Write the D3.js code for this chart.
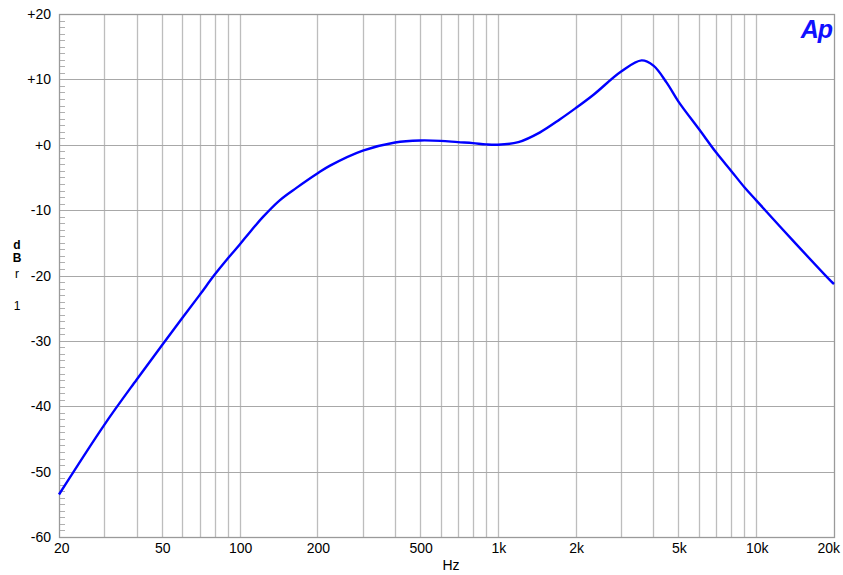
<!DOCTYPE html>
<html>
<head>
<meta charset="utf-8">
<script src="https://cdn.jsdelivr.net/npm/d3@7"></script>
<style>
  html, body { margin: 0; padding: 0; background: #fff; }
  svg { display: block; font-family: "Liberation Sans", Arial, sans-serif; }
</style>
</head>
<body>
<svg id="chart" width="843" height="575"></svg>
<script>
// Frequency response measurement (Hz vs dBr)
const freqHz = [20, 30, 40, 50, 60, 70, 80, 90, 100, 110, 123.5, 143, 166, 200, 224, 300, 400, 500, 600, 700, 800, 900,
                1000, 1200, 1456, 1740, 2000, 2345, 3000, 3600, 4000, 4500, 5000, 6000, 7000, 8000, 9000,
                10000, 13900, 19500, 20000];
const levelDb = [-53.5, -42.8, -35.9, -30.7, -26.5, -23.0, -19.9, -17.4, -15.3, -13.3, -11.0, -8.5, -6.6, -4.4, -3.2, -0.9, 0.35, 0.66, 0.6, 0.4, 0.25, 0.05,
                 0.0, 0.4, 1.9, 3.9, 5.6, 7.65, 11.2, 12.9, 12.1, 9.5, 6.6, 2.4, -1.2, -4.0, -6.5,
                 -8.5, -14.7, -20.9, -21.3];

const xGridHz = [30, 40, 50, 60, 70, 80, 90, 100, 200, 300, 400, 500, 600, 700, 800, 900,
                 1000, 2000, 3000, 4000, 5000, 6000, 7000, 8000, 9000, 10000];
const xTickHz = [20, 50, 100, 200, 500, 1000, 2000, 5000, 10000, 20000];
const xTickLabels = ["20", "50", "100", "200", "500", "1k", "2k", "5k", "10k", "20k"];
const yTicks = [20, 10, 0, -10, -20, -30, -40, -50, -60];
const yTickLabels = ["+20", "+10", "+0", "-10", "-20", "-30", "-40", "-50", "-60"];

const svg = d3.select("#chart");
const plotL = 59, plotR = 834, plotT = 14, plotB = 537;

const x = d3.scaleLog().domain([20, 20000]).range([plotL, plotR]);
const y = d3.scaleLinear().domain([-60, 20]).range([plotB, plotT]);

const g = svg.append("g");

// vertical grid
g.selectAll("line.vg").data(xGridHz).join("line")
  .attr("class", "vg")
  .attr("x1", d => Math.round(x(d)) + 0.5).attr("x2", d => Math.round(x(d)) + 0.5)
  .attr("y1", plotT).attr("y2", plotB)
  .attr("stroke", "#bdbdbd").attr("stroke-width", 1.3);

// horizontal grid
g.selectAll("line.hg").data(yTicks.filter(d => d !== 20 && d !== -60)).join("line")
  .attr("class", "hg")
  .attr("x1", plotL).attr("x2", plotR)
  .attr("y1", d => Math.round(y(d)) + 0.5).attr("y2", d => Math.round(y(d)) + 0.5)
  .attr("stroke", "#a8a8a8").attr("stroke-width", 1.2);

// minor ticks on the left edge, every 1 dB
const minor = d3.range(-59, 20).filter(d => d % 10 !== 0);
g.selectAll("line.mt").data(minor).join("line")
  .attr("x1", plotL).attr("x2", plotL + 6)
  .attr("y1", d => Math.round(y(d)) + 0.5).attr("y2", d => Math.round(y(d)) + 0.5)
  .attr("stroke", "#b0b0b0").attr("stroke-width", 1);

// frame
g.append("rect")
  .attr("x", plotL + 0.5).attr("y", plotT + 0.5)
  .attr("width", plotR - plotL).attr("height", plotB - plotT)
  .attr("fill", "none").attr("stroke", "#9a9a9a").attr("stroke-width", 1.3);

// response curve
const line = d3.line()
  .x((d, i) => x(freqHz[i]))
  .y(d => y(d))
  .curve(d3.curveCatmullRom.alpha(0.5));

svg.append("path")
  .datum(levelDb)
  .attr("d", line)
  .attr("fill", "none")
  .attr("stroke", "#0000ff")
  .attr("stroke-width", 2.4)
  .attr("stroke-linejoin", "round");

// y tick labels
svg.selectAll("text.yt").data(yTicks).join("text")
  .attr("x", 51).attr("y", d => y(d) + 5)
  .attr("text-anchor", "end")
  .attr("font-size", 14).attr("fill", "#000")
  .text((d, i) => yTickLabels[i]);

// x tick labels (end labels kept inside the canvas)
const last = xTickHz.length - 1;
svg.selectAll("text.xt").data(xTickHz).join("text")
  .attr("x", (d, i) => i === 0 ? x(d) - 5 : i === last ? 840 : x(d) + 1)
  .attr("y", 553)
  .attr("text-anchor", (d, i) => i === 0 ? "start" : i === last ? "end" : "middle")
  .attr("font-size", 14).attr("fill", "#000")
  .text((d, i) => xTickLabels[i]);

// axis titles
svg.append("text").attr("x", 451).attr("y", 570)
  .attr("text-anchor", "middle").attr("font-size", 14).text("Hz");

const yTitle = [["d", "bold", 249], ["B", "bold", 262], ["r", "normal", 278], ["1", "normal", 310]];
svg.selectAll("text.ytl").data(yTitle).join("text")
  .attr("x", 17).attr("y", d => d[2])
  .attr("text-anchor", "middle").attr("font-size", 12)
  .attr("font-weight", d => d[1])
  .text(d => d[0]);

// logo
svg.append("text").attr("x", 832).attr("y", 38)
  .attr("text-anchor", "end")
  .attr("font-size", 25).attr("font-weight", "bold").attr("font-style", "italic")
  .attr("fill", "#1010ff").attr("letter-spacing", -1)
  .text("Ap");
</script>
</body>
</html>
